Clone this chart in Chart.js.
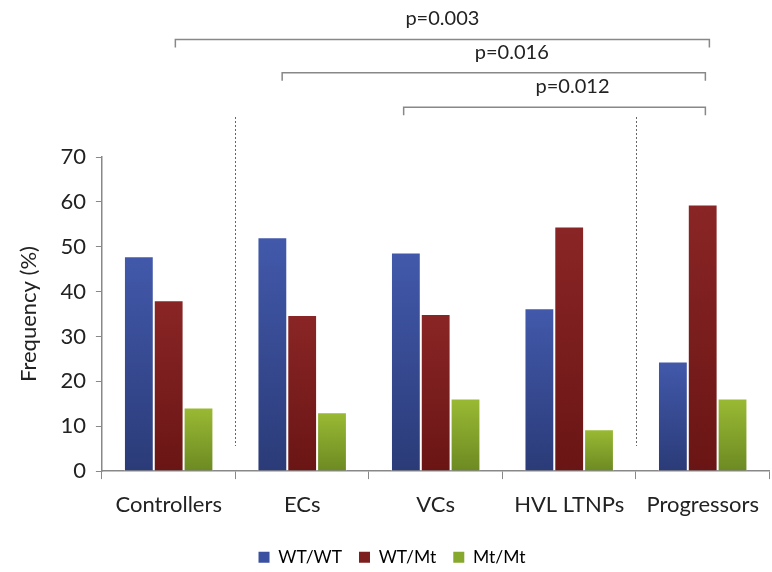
<!DOCTYPE html>
<html>
<head>
<meta charset="utf-8">
<script src="https://cdn.jsdelivr.net/npm/chart.js@4"></script>
<style>
  html, body { margin: 0; padding: 0; background: #fff; }
  #wrap { width: 772px; height: 572px; }
</style>
</head>
<body>
<div id="wrap"><canvas id="freq"></canvas></div>
<script>
const categories = ["Controllers", "ECs", "VCs", "HVL LTNPs", "Progressors"];
const wtwt = [47.9, 52.1, 48.7, 36.3, 24.4];
const wtmt = [38.1, 34.8, 35.0, 54.5, 59.4];
const mtmt = [14.2, 13.1, 16.2, 9.3, 16.2];
const yTicks = [0, 10, 20, 30, 40, 50, 60, 70];

// brackets: [from category pos, to category pos, height in y units, label]
const brackets = [
  [0.05, 4.05, 96.2, "p=0.003"],
  [0.85, 4.02, 88.8, "p=0.016"],
  [1.76, 4.02, 81.1, "p=0.012"],
];
const separators = [0.5, 3.5];

Chart.defaults.font.family = "Lato";
Chart.defaults.color = "#222";

function grad(top, bottom) {
  return function (c) {
    const chart = c.chart;
    const y = chart.scales && chart.scales.y;
    if (!y || !chart.chartArea || c.raw == null) return top;
    const y0 = y.getPixelForValue(0);
    const y1 = y.getPixelForValue(c.raw);
    const g = chart.ctx.createLinearGradient(0, y1, 0, y0);
    g.addColorStop(0, top);
    g.addColorStop(1, bottom);
    return g;
  };
}

const extras = {
  id: "extras",
  afterDraw(chart) {
    const { ctx, scales: { x, y } } = chart;
    ctx.save();
    // dotted separators
    ctx.strokeStyle = "#666";
    ctx.lineWidth = 1;
    ctx.setLineDash([2, 2]);
    separators.forEach(s => {
      const px = Math.round(x.getPixelForValue(s)) + 0.5;
      ctx.beginPath();
      ctx.moveTo(px, Math.round(y.getPixelForValue(78.9)));
      ctx.lineTo(px, Math.round(y.getPixelForValue(5.5)));
      ctx.stroke();
    });
    ctx.setLineDash([]);
    // brackets
    ctx.strokeStyle = "#888";
    ctx.lineWidth = 1.5;
    ctx.font = "20px Lato";
    ctx.fillStyle = "#222";
    ctx.textAlign = "center";
    ctx.textBaseline = "alphabetic";
    brackets.forEach((b, i) => {
      const xa = x.getPixelForValue(b[0]);
      const xb = x.getPixelForValue(b[1]);
      const yy = y.getPixelForValue(b[2]);
      ctx.beginPath();
      ctx.moveTo(xa, yy + 8);
      ctx.lineTo(xa, yy);
      ctx.lineTo(xb, yy);
      ctx.lineTo(xb, yy + 8);
      ctx.stroke();
      ctx.fillText(b[3], (xa + xb) / 2 + (i === 0 ? 0 : 18), yy - 14);
    });
    ctx.restore();
  }
};

new Chart(document.getElementById("freq"), {
  type: "bar",
  data: {
    labels: categories,
    datasets: [
      { label: "WT/WT", data: wtwt, backgroundColor: grad("#4259ab", "#2b3b78") },
      { label: "WT/Mt", data: wtmt, backgroundColor: grad("#8a2525", "#6a1515") },
      { label: "Mt/Mt", data: mtmt, backgroundColor: grad("#9aba34", "#6c8a22") },
    ],
  },
  options: {
    responsive: true,
    maintainAspectRatio: false,
    animation: false,
    datasets: {
      bar: {
        barPercentage: 1,
        categoryPercentage: 0.67,
        borderColor: "rgba(255,255,255,0.8)",
        borderWidth: 1,
      },
    },
    layout: { padding: { top: 157, left: 12, right: 0, bottom: -4 } },
    plugins: {
      legend: {
        position: "bottom",
        labels: {
          boxWidth: 11,
          boxHeight: 11,
          padding: 17,
          font: { size: 17.5 },
          color: "#222",
          generateLabels(chart) {
            const cols = ["#3a50a0", "#7e1f1f", "#86a82c"];
            return chart.data.datasets.map((d, i) => ({
              text: d.label, fillStyle: cols[i], strokeStyle: cols[i], lineWidth: 0, datasetIndex: i,
            }));
          },
        },
      },
      tooltip: { enabled: false },
    },
    scales: {
      x: {
        grid: { offset: true, drawOnChartArea: false, tickLength: 8, color: "#888" },
        border: { color: "#888", width: 1.5 },
        ticks: { font: { size: 22 }, color: "#222", padding: 13 },
      },
      y: {
        min: 0,
        max: 70,
        afterBuildTicks(axis) { axis.ticks = yTicks.map(v => ({ value: v })); },
        grid: { drawOnChartArea: false, tickLength: 6, color: "#888" },
        border: { color: "#888", width: 1.5 },
        ticks: { font: { size: 22 }, color: "#222", padding: 10 },
        title: { display: true, text: "Frequency (%)", font: { size: 22 }, color: "#222", padding: { bottom: 8 } },
      },
    },
  },
  plugins: [extras],
});
</script>
</body>
</html>
